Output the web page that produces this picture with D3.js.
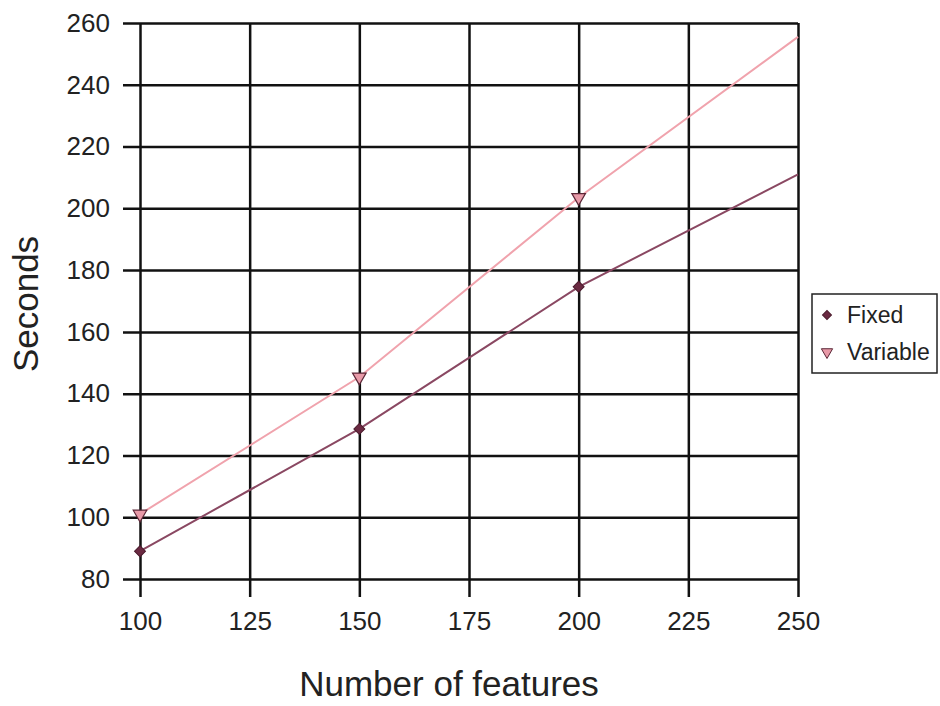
<!DOCTYPE html>
<html lang="en">
<head>
<meta charset="UTF-8">
<title>Seconds vs features</title>
<script src="https://d3js.org/d3.v7.min.js"></script>
<style>
  body { margin: 0; background: #fff; }
  text { font-family: "Liberation Sans", Arial, sans-serif; fill: #222; }
</style>
</head>
<body>
<svg id="chart" width="940" height="706"></svg>
<script>
// data
const features = [100, 150, 200, 250];
const fixedSecs = [89, 128.6, 174.6, 211];
const variableSecs = [101, 145.4, 203.5, 255.5];
const markedFeatures = [100, 150, 200];   // last point has no marker
const xTicks = [100, 125, 150, 175, 200, 225, 250];
const yTicks = [80, 100, 120, 140, 160, 180, 200, 220, 240, 260];
const seriesNames = ["Fixed", "Variable"];

const svg = d3.select("#chart");
const margin = { top: 23, left: 140, right: 142, bottom: 127 };
const width = 940 - margin.left - margin.right;
const height = 706 - margin.top - margin.bottom;

const g = svg.append("g").attr("transform", `translate(${margin.left},${margin.top})`);

const x = d3.scaleLinear().domain([100, 250]).range([0, width]);
const y = d3.scaleLinear().domain([80, 260]).range([height, 0]);

// grid: horizontal lines with tick stubs on the left
g.append("g")
  .call(d3.axisLeft(y).tickValues(yTicks).tickSize(-width - 17).tickPadding(12))
  .attr("transform", "translate(-17,0)")
  .call(a => a.select(".domain").remove())
  .call(a => a.selectAll("line").attr("stroke", "#111").attr("stroke-width", 2.5))
  .call(a => a.selectAll("text").attr("x", -13).style("font-size", "26px"));

// vertical lines with stubs at the bottom
g.append("g")
  .attr("transform", `translate(0,${height + 18})`)
  .call(d3.axisBottom(x).tickValues(xTicks).tickSize(-height - 18))
  .call(a => a.select(".domain").remove())
  .call(a => a.selectAll("line").attr("stroke", "#111").attr("stroke-width", 2.5))
  .call(a => a.selectAll("text").attr("y", 15).style("font-size", "26px"));

const line = d3.line().x(d => x(d[0])).y(d => y(d[1]));

const fixedPts = features.map((f, i) => [f, fixedSecs[i]]);
const varPts = features.map((f, i) => [f, variableSecs[i]]);

g.append("path").datum(varPts).attr("d", line)
  .attr("fill", "none").attr("stroke", "#f0a3ad").attr("stroke-width", 2);
g.append("path").datum(fixedPts).attr("d", line)
  .attr("fill", "none").attr("stroke", "#8a4862").attr("stroke-width", 2);

const diamond = d3.symbol().type(d3.symbolSquare).size(60);
const tri = d3.symbol().type(d3.symbolTriangle).size(80);

g.selectAll(".fx").data(fixedPts.filter(d => markedFeatures.includes(d[0])))
  .enter().append("path")
  .attr("d", diamond)
  .attr("transform", d => `translate(${x(d[0])},${y(d[1])}) rotate(45)`)
  .attr("fill", "#6b2a42").attr("stroke", "#4a1a2c").attr("stroke-width", 1);

g.selectAll(".vr").data(varPts.filter(d => markedFeatures.includes(d[0])))
  .enter().append("path")
  .attr("d", tri)
  .attr("transform", d => `translate(${x(d[0])},${y(d[1])}) rotate(180)`)
  .attr("fill", "#e89aa8").attr("stroke", "#5a2636").attr("stroke-width", 1.2);

// axis titles
svg.append("text")
  .attr("transform", `translate(38,304) rotate(-90)`)
  .attr("text-anchor", "middle")
  .style("font-size", "35px")
  .text("Seconds");

svg.append("text")
  .attr("x", 449)
  .attr("y", 696)
  .attr("text-anchor", "middle")
  .style("font-size", "35px")
  .text("Number of features");

// legend
const lg = svg.append("g").attr("transform", "translate(812,294)");
lg.append("rect").attr("width", 125).attr("height", 79)
  .attr("fill", "#fff").attr("stroke", "#222").attr("stroke-width", 1.5);
seriesNames.forEach((name, i) => {
  const row = lg.append("g").attr("transform", `translate(15,${21 + i * 37})`);
  if (i === 0) {
    row.append("path").attr("d", d3.symbol().type(d3.symbolSquare).size(40))
      .attr("transform", "rotate(45)")
      .attr("fill", "#6b2a42").attr("stroke", "#4a1a2c");
  } else {
    row.append("path").attr("d", d3.symbol().type(d3.symbolTriangle).size(55))
      .attr("transform", "rotate(180)")
      .attr("fill", "#e89aa8").attr("stroke", "#5a2636");
  }
  row.append("text").attr("x", 20).attr("dy", "0.35em")
    .style("font-size", "23px").text(name);
});
</script>
</body>
</html>
